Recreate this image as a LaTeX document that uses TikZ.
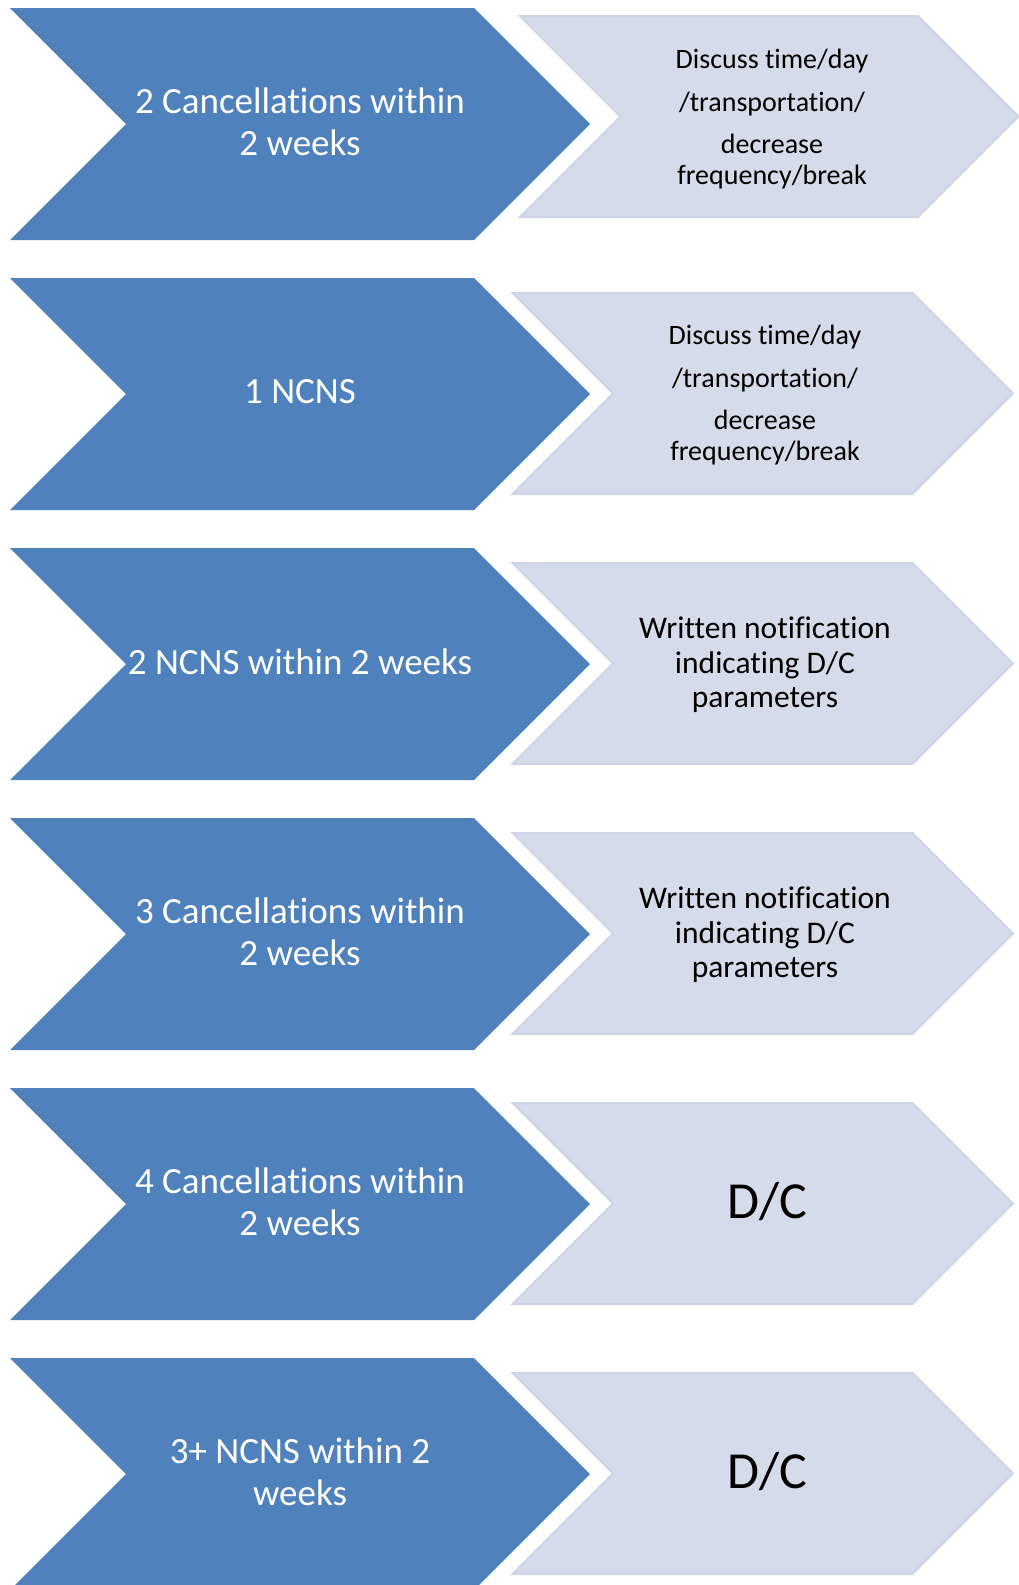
\documentclass[tikz,border=0pt]{standalone}
\usepackage{fontspec}
\setmainfont{Carlito}[Ligatures=NoCommon]
\definecolor{causeblue}{HTML}{4F81BD}
\definecolor{resultfill}{HTML}{D4DBEA}
\definecolor{resultline}{HTML}{CCD4E6}
\tikzset{
	cause/.style={fill=causeblue},
	result/.style={fill=resultfill,draw=resultline,line width=2pt},
	cause text/.style={text=white,align=center,font=\fontsize{37}{42.5}\selectfont},
	result text/.style={align=center,font=\fontsize{28}{30.7}\selectfont},
	notice text/.style={align=center,font=\fontsize{31.5}{34.5}\selectfont},
	dc text/.style={font=\fontsize{52}{60}\selectfont}
}
% chevron: style, left x, top y, straight width, height
\newcommand{\chevshape}[5]{\path[#1] (#2,#3) -- ++(#4,0) -- ++(#5/2,#5/2) -- ++(-#5/2,#5/2) -- ++(-#4,0) -- ++(#5/2,-#5/2) -- cycle;}
\begin{document}
\begin{tikzpicture}[x=1pt,y=-1pt]
		\useasboundingbox (0,0) rectangle (1018,1585);
		\foreach \i in {0,...,5} \chevshape{cause}{10}{8+270*\i}{464}{232};
		\chevshape{result}{520}{16}{398}{201}
		\foreach \i in {1,...,5} \chevshape{result}{512.5}{23+270*\i}{400}{201};
		\node[cause text](c1) at(300,122){2 Cancellations within\\2 weeks};
		\node[cause text](c2) at(300,392){1 NCNS};
		\node[cause text](c3) at(300,662){2 NCNS within 2 weeks};
		\node[cause text](c4) at(300,932){3 Cancellations within\\2 weeks};
		\node[cause text](c5) at(300,1202){4 Cancellations within\\2 weeks};
		\node[cause text](c6) at(300,1472){3+ NCNS within 2\\weeks};
		\node[result text](r1) at(772,119){Discuss time/day\\[12pt]/transportation/\\[12pt]decrease\\frequency/break};
		\node[result text](r2) at(765,395){Discuss time/day\\[12pt]/transportation/\\[12pt]decrease\\frequency/break};
		\node[notice text](r3) at(765,665){Written notification\\indicating D/C\\parameters};
		\node[notice text](r4) at(765,935){Written notification\\indicating D/C\\parameters};
		\node[dc text](r5) at(767,1202){D/C};
		\node[dc text](r6) at(767,1472){D/C};
\end{tikzpicture}
\end{document}
